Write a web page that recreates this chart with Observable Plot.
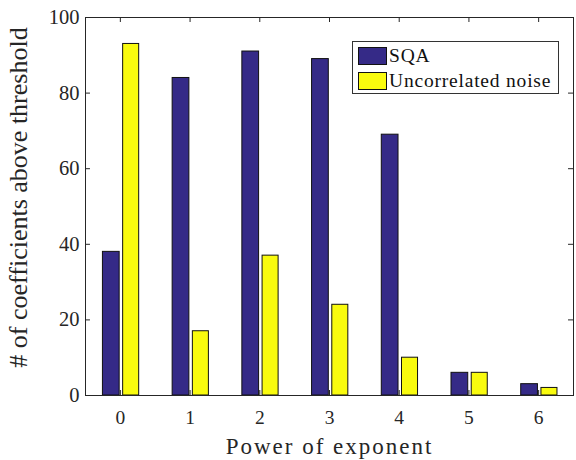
<!DOCTYPE html>
<html>
<head>
<meta charset="utf-8">
<script src="https://cdn.jsdelivr.net/npm/d3@7"></script>
<script src="https://cdn.jsdelivr.net/npm/@observablehq/plot@0.6"></script>
<style>
  html, body { margin: 0; padding: 0; background: #fff; }
  #wrap { position: relative; width: 576px; height: 460px; }
  #legend {
    position: absolute; left: 352px; top: 41px; width: 205px; height: 51px;
    border: 1px solid #333; background: #fff;
    font-family: "Liberation Serif", "DejaVu Serif", "Liberation Sans", sans-serif; font-size: 19.5px; color: #111;
    letter-spacing: 0.8px;
  }
  .item { position: absolute; left: 5px; height: 20px; display: flex; align-items: center; white-space: nowrap; }
  .sw { width: 29px; height: 18px; border: 1px solid #111; box-sizing: border-box; margin-right: 2px; flex: none; }
  .xlabel { letter-spacing: 2px; }
</style>
</head>
<body>
<div id="wrap"></div>
<script>
const powers = [0, 1, 2, 3, 4, 5, 6];
const sqa = [38, 84, 91, 89, 69, 6, 3];
const noise = [93, 17, 37, 24, 10, 6, 2];
const seriesNames = ["SQA", "Uncorrelated noise"];
const seriesColors = ["#352a87", "#f9fb0e"];
const yTicks = [0, 20, 40, 60, 80, 100];

const rows = [];
powers.forEach((p, i) => {
  rows.push({p, series: seriesNames[0], v: sqa[i], x1: p - 0.25, x2: p - 0.01});
  rows.push({p, series: seriesNames[1], v: noise[i], x1: p + 0.04, x2: p + 0.27});
});

const font = "'Liberation Serif', 'DejaVu Serif', 'Liberation Sans', sans-serif";
const tickLenX = 5 / 70;
const tickLenY = 5 / 3.78;

const chart = Plot.plot({
  width: 576,
  height: 460,
  marginLeft: 85,
  marginRight: 3,
  marginTop: 17,
  marginBottom: 65,
  style: {fontFamily: font, fontSize: "20px", color: "#262626", background: "#fff"},
  x: {domain: [-0.5, 6.5]},
  y: {domain: [0, 100]},
  color: {domain: seriesNames, range: seriesColors},
  marks: [
    Plot.rectY(rows, {x1: "x1", x2: "x2", y1: 0, y2: "v", fill: "series", stroke: "#111", strokeWidth: 1}),
    Plot.frame({stroke: "#262626", strokeWidth: 1}),
    Plot.ruleX(powers, {x: d => d, y1: 0, y2: tickLenY, stroke: "#262626"}),
    Plot.ruleX(powers, {x: d => d, y1: 100 - tickLenY, y2: 100, stroke: "#262626"}),
    Plot.ruleY(yTicks, {y: d => d, x1: -0.5, x2: -0.5 + tickLenX, stroke: "#262626"}),
    Plot.ruleY(yTicks, {y: d => d, x1: 6.5 - tickLenX, x2: 6.5, stroke: "#262626"}),
    Plot.axisX(powers, {tickSize: 0, tickPadding: 15, label: null, fontSize: 19.5, fill: "#262626", fontFamily: font}),
    Plot.axisY(yTicks, {tickSize: 0, tickPadding: 6, label: null, fontSize: 20.5, fill: "#262626", fontFamily: font}),
    Plot.text(["Power of exponent"], {frameAnchor: "bottom", textAnchor: "middle", dy: 58, fontSize: 23, fill: "#262626", fontFamily: font, className: "xlabel"}),
    Plot.text(["# of coefficients above threshold"], {frameAnchor: "left", textAnchor: "middle", dx: -67, dy: -9, rotate: -90, fontSize: 26, fill: "#262626", fontFamily: font})
  ]
});

const wrap = document.getElementById("wrap");
wrap.appendChild(chart);
const legend = document.createElement("div");
legend.id = "legend";
seriesNames.forEach((name, i) => {
  const item = document.createElement("div");
  item.className = "item";
  item.style.top = (4 + i * 25) + "px";
  const sw = document.createElement("div");
  sw.className = "sw";
  sw.style.background = seriesColors[i];
  const t = document.createElement("span");
  t.textContent = name;
  item.appendChild(sw);
  item.appendChild(t);
  legend.appendChild(item);
});
wrap.appendChild(legend);
</script>
</body>
</html>
